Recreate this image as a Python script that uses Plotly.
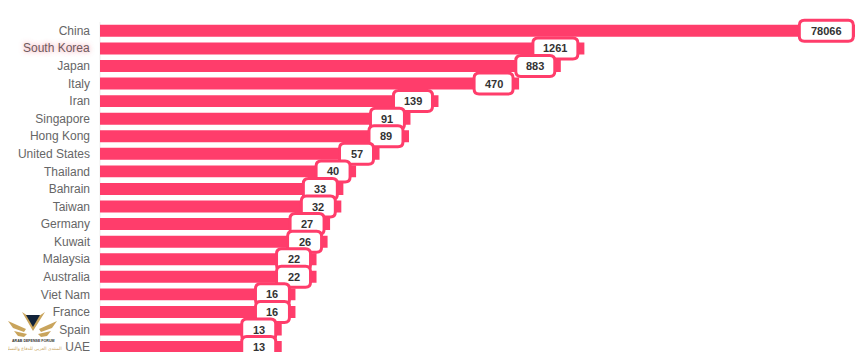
import plotly.graph_objects as go
import math

countries = ["China", "South Korea", "Japan", "Italy", "Iran", "Singapore", "Hong Kong",
             "United States", "Thailand", "Bahrain", "Taiwan", "Germany", "Kuwait",
             "Malaysia", "Australia", "Viet Nam", "France", "Spain", "UAE"]
cases = [78066, 1261, 883, 470, 139, 91, 89, 57, 40, 33, 32, 27, 26, 22, 22, 16, 16, 13, 13]

PINK = "#ff3d6b"
GOLD = "#c9a45c"
box_w = {2: 34, 3: 39, 4: 45, 5: 54}
box_off = {2: -23, 3: -25.5, 4: -29, 5: -31}

# page offset of the plot's bottom-left corner, used to place the watermark
LEFT, BOTTOM = 100, 354

def rounded(w, h, r):
    a, b = w / 2, h / 2
    return (f"M{-a+r},{-b} L{a-r},{-b} Q{a},{-b} {a},{-b+r} L{a},{b-r} Q{a},{b} {a-r},{b} "
            f"L{-a+r},{b} Q{-a},{b} {-a},{b-r} L{-a},{-b+r} Q{-a},{-b} {-a+r},{-b} Z")

def logo_path(points):
    pts = [f"{x-LEFT},{BOTTOM-y}" for x, y in points]
    return "M" + " L".join(pts) + " Z"

fig = go.Figure(go.Bar(x=cases, y=countries, orientation="h", marker=dict(color=PINK, line_width=0),
                       width=0.68))

shapes, annos = [], []
shapes.append(dict(type="line", xref="paper", yref="y", x0=0, x1=0, y0=-0.5, y1=18.28, layer="below",
                   line=dict(color="#eeeeee", width=1)))
for c, v in zip(countries, cases):
    n = len(str(v))
    shapes.append(dict(type="path", layer="above", xref="x", yref="y", xsizemode="pixel", ysizemode="pixel",
                       xanchor=v * 10 ** (box_off[n] / 152.3), yanchor=c,
                       path=rounded(box_w[n], 21, 5),
                       fillcolor="white", line=dict(color=PINK, width=3)))
    annos.append(dict(x=math.log10(v), y=c, xref="x", yref="y", text=f"<b>{v}</b>", showarrow=False,
                      xshift=box_off[n], font=dict(family="Liberation Sans", size=11, color="#333333")))

annos.append(dict(x=0, y="South Korea", xref="paper", yref="y", xanchor="right", xshift=-8, text="South Korea",
                  showarrow=False, font=dict(family="Liberation Sans", size=12, color="#6e5a5e",
                                             shadow="0 0 5px rgba(240,90,110,0.7)")))

# watermark emblem
logo_parts = [
    ([(22, 314), (28, 318), (39, 318), (45, 314), (33, 333)], GOLD),
    ([(26, 317), (40, 317), (33, 329)], "#12233a"),
    ([(8, 323), (26, 331), (24, 334), (13, 330)], GOLD),
    ([(57, 323), (39, 331), (41, 334), (52, 330)], GOLD),
    ([(14, 333), (27, 336), (24, 339), (18, 338)], GOLD),
    ([(51, 333), (38, 336), (41, 339), (47, 338)], GOLD),
]
for pts, col in logo_parts:
    shapes.append(dict(type="path", layer="above", xref="paper", yref="paper", xsizemode="pixel",
                       ysizemode="pixel", xanchor=0, yanchor=0, path=logo_path(pts), fillcolor=col,
                       line=dict(width=0)))
for text, px, py, size, col, fam in [("<b>ARAB DEFENSE FORUM</b>", 33, 343, 3.6, "#333333", "Liberation Sans"),
                                     ("المنتدى العربي للدفاع والتسليح", 33, 351, 4.5, GOLD, "DejaVu Sans")]:
    annos.append(dict(x=0, y=0, xref="paper", yref="paper", xanchor="center", yanchor="middle",
                      xshift=px - LEFT, yshift=BOTTOM - py, text=text, showarrow=False,
                      font=dict(family=fam, size=size, color=col)))

fig.update_layout(
    width=855, height=346, margin=dict(l=92, r=3, t=0, b=0), paper_bgcolor="white", plot_bgcolor="white",
    showlegend=False, shapes=shapes, annotations=annos,
    xaxis=dict(type="log", range=[-0.079, 4.91], visible=False),
    yaxis=dict(type="category", categoryorder="array", categoryarray=countries, range=[18.28, -1.3],
               tickmode="array", tickvals=countries,
               ticktext=["" if c == "South Korea" else c for c in countries],
               tickfont=dict(family="Liberation Sans", size=12, color="#666666"),
               ticks="", ticklen=0, ticklabelstandoff=9, showline=False, showgrid=False, zeroline=False),
)
fig.write_html("out.html")
